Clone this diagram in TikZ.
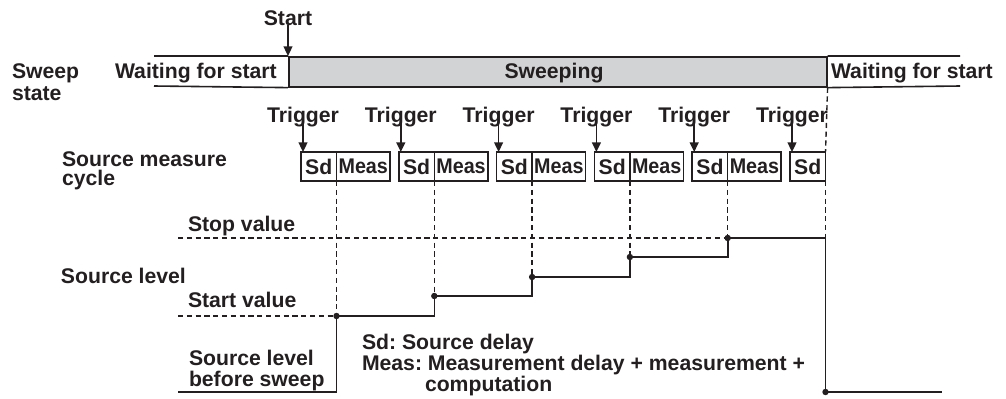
\documentclass[tikz,border=0pt]{standalone}
\usepackage{fontspec}
\setmainfont{Liberation Sans}
\usetikzlibrary{arrows.meta}
\definecolor{ink}{HTML}{231F20}
\definecolor{barfill}{HTML}{D1D3D4}
\frenchspacing
\begin{document}
\begin{tikzpicture}[x=0.5pt,y=-0.5pt,
  lbl/.style={font=\fontsize{10.6}{12}\selectfont\bfseries, text=ink, inner sep=0pt, outer sep=0pt},
  lw/.style={lbl, anchor=base west},
  line/.style={draw=ink, line width=0.8pt},
  dashln/.style={draw=ink, line width=0.7pt, dash pattern=on 2.6pt off 1.8pt},
  arr/.style={line, -{Triangle[width=4.4pt,length=4.8pt]}},
  cellbox/.style={lbl, draw=ink, line width=0.75pt, minimum height=14.5pt, anchor=north west},
  sdbox/.style={cellbox, minimum width=17.75pt},
  measbox/.style={cellbox, minimum width=26.75pt},
  dot/.style={circle, fill=ink, inner sep=0pt, minimum size=3.2pt}
]
\useasboundingbox (0,0) rectangle (1006,398);

% sweep state bar
\coordinate (barL1) at (154,56);
\coordinate (barL2) at (154,86);
\coordinate (barR1) at (960,56);
\coordinate (barR2) at (960,86);
\node[draw=ink, fill=barfill, line width=0.8pt, minimum width=269pt, minimum height=15pt, inner sep=0pt, anchor=north west] (sweepbar) at (288,56) {};
\draw[line] (barL1) -- (sweepbar.north west) (barL2) -- (sweepbar.south west);
\draw[line] (sweepbar.north east) -- (barR1) (sweepbar.south east) -- (barR2);
\node[lbl, anchor=base] (sweeping) at (554,78) {Sweeping};
\node[lw] (wait1) at (115,78) {Waiting for start};
\node[lw] (wait2) at (831,78) {Waiting for start};
\node[lw] (sweepA) at (12,78) {Sweep};
\node[lw] (sweepB) at (12,100) {state};

% start arrow
\node[lbl, anchor=base] (start) at (288,25) {Start};
\draw[arr] (start.base) -- (sweepbar.north west);

% source measure cycles
\node[lw] (smA) at (62,166) {Source measure};
\node[lw] (smB) at (62,185) {cycle};
\foreach \i in {0,...,5} {
  \pgfmathsetmacro\xo{301+97.8*\i}
  \node[sdbox] (s\i) at (\xo,152) {Sd};
  \ifnum\i<5
    \node[measbox] (m\i) at (s\i.north east) {\scalebox{0.93}[1]{Meas}};
  \fi
  \node[lbl, anchor=base] (t\i) at (\xo+2,122) {Trigger};
  \draw[arr] (t\i.base) -- (t\i.base |- s\i.north);
}

% source level
\node[lw] (stopv) at (188,231) {Stop value};
\node[lw] (srclvl) at (61,283) {Source level};
\node[lw] (startv) at (188,307) {Start value};
\node[lw] (befA) at (189,365) {Source level};
\node[lw] (befB) at (189,386) {before sweep};

\coordinate (p0) at (s0.south east |- 0,316);
\coordinate (p1) at (s1.south east |- 0,296);
\coordinate (p2) at (s2.south east |- 0,277);
\coordinate (p3) at (s3.south east |- 0,257);
\coordinate (p4) at (s4.south east |- 0,238);
\coordinate (p5) at (s5.south east |- 0,392);
\coordinate (stopL) at (178,238);
\coordinate (startL) at (178,316);
\coordinate (beforeL) at (178,392);
\coordinate (endR) at (942,392);

% dashed guides
\draw[dashln] (stopL) -- (p4);
\draw[dashln] (startL) -- (p0);
\foreach \i in {0,...,4} { \draw[dashln] (s\i.south east) -- (p\i); }
\draw[dashln] (sweepbar.south east) -- (s5.north east);
\draw[dashln] (s5.south east) -- (s5.south east |- p4);

% level trace
\draw[line] (beforeL) -- (beforeL -| p0) -- (p0) -- (p0 -| p1) -- (p1) -- (p1 -| p2) -- (p2) -- (p2 -| p3) -- (p3) -- (p3 -| p4) -- (p4) -- (p4 -| p5) -- (p5) -- (endR);
\foreach \i in {0,...,5} { \node[dot] (d\i) at (p\i) {}; }

% legend
\node[lw] (legA) at (362,349) {Sd: Source delay};
\node[lw] (legB) at (362,370) {Meas: Measurement delay + measurement +};
\node[lw] (legC) at (425,391) {computation};
\end{tikzpicture}
\end{document}
